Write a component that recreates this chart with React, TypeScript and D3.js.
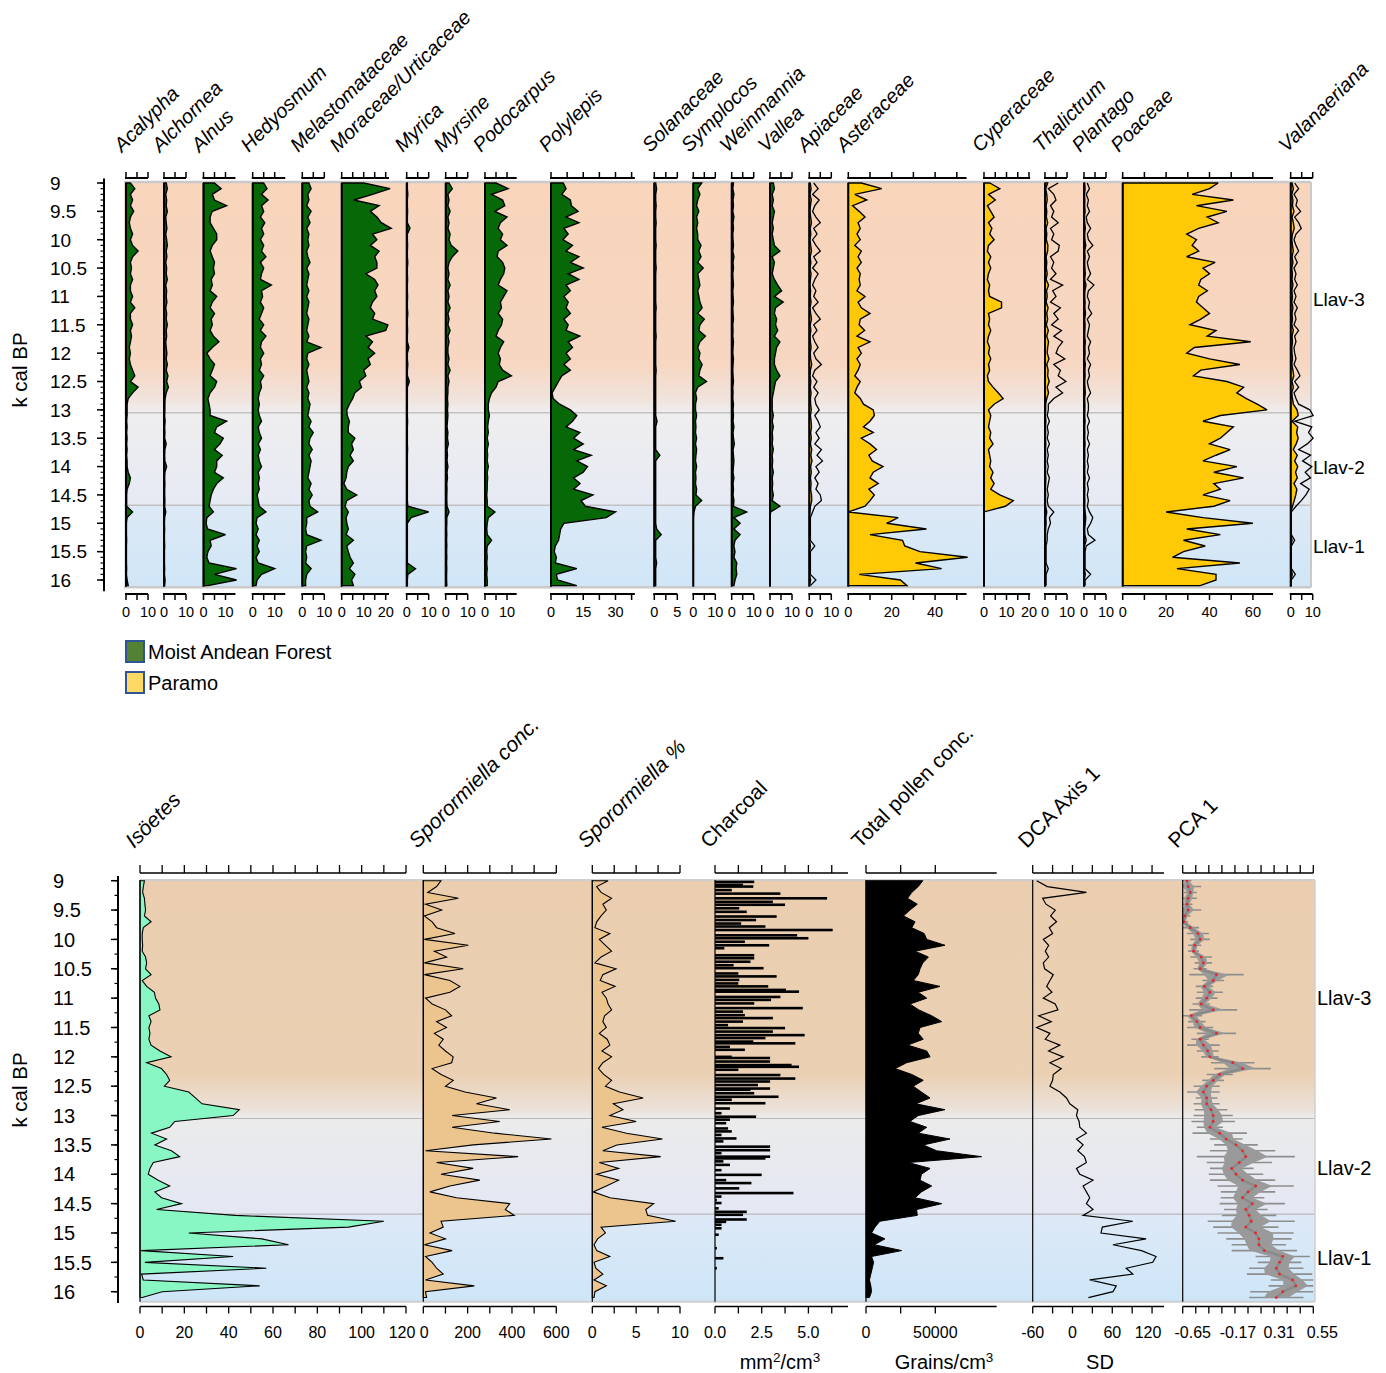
import React from "react";
import * as d3 from "d3";

// ---------- DATA ----------
const AGES = [
  9.0, 9.1, 9.2, 9.3, 9.4, 9.5, 9.6, 9.7, 9.8, 9.9,
  10.0, 10.1, 10.2, 10.3, 10.4, 10.5, 10.6, 10.7, 10.8, 10.9,
  11.0, 11.1, 11.2, 11.3, 11.4, 11.5, 11.6, 11.7, 11.8, 11.9,
  12.0, 12.1, 12.2, 12.3, 12.4, 12.5, 12.6, 12.7, 12.8, 12.9,
  13.0, 13.1, 13.2, 13.3, 13.4, 13.5, 13.6, 13.7, 13.8, 13.9,
  14.0, 14.1, 14.2, 14.3, 14.4, 14.5, 14.6, 14.7, 14.8, 14.9,
  15.0, 15.1, 15.2, 15.3, 15.4, 15.5, 15.6, 15.7, 15.8, 15.9,
  16.0, 16.1,
];

const acalypha = [2, 4, 2, 3, 2, 3.5, 2, 1.5, 2, 3, 2, 3, 5.5, 3, 2, 2.5, 2, 3, 2, 2, 3, 2, 4, 2, 2, 3, 2, 2.5, 2, 1.5, 2, 1.5, 2, 3, 4, 2, 5.5, 3, 1, 0.5, 0.5, 0.5, 0.3, 0.5, 0.3, 0.5, 0.3, 0.5, 0.3, 0.5, 0.5, 1, 2, 1.5, 0.5, 0.3, 0.3, 0.3, 3, 0.5, 0.2, 0.2, 0.2, 0.3, 0.2, 0.2, 0.2, 0.2, 0.3, 0.2, 0.5, 1];
const alchornea = [1, 1.5, 0.8, 1.2, 1, 1.5, 0.8, 1, 1.3, 0.8, 1.2, 1.5, 1, 1.3, 0.8, 1.2, 1, 1.5, 0.8, 1.2, 1, 1.3, 0.8, 1.2, 1, 1.5, 1, 1.2, 0.8, 1, 1.3, 1, 1.5, 1, 1.8, 1.2, 2, 1, 0.5, 0.4, 0.4, 0.3, 0.5, 0.3, 0.4, 0.3, 1, 0.4, 0.3, 0.4, 1.2, 0.4, 0.3, 0.4, 0.3, 0.3, 0.4, 0.3, 0.8, 0.3, 0.2, 0.3, 0.2, 0.2, 0.3, 0.2, 0.2, 0.2, 0.3, 0.2, 0.5, 0.3];
const alnus = [5, 8, 4, 5, 10.5, 4, 3, 3, 4.5, 6, 6, 4, 3, 4, 5, 4.5, 5, 3.5, 4, 3, 6, 4, 3, 5, 3.5, 4, 3, 4.5, 7, 4, 1.5, 3, 5, 4, 3, 6, 5, 3, 2, 2.5, 3, 3, 10.5, 6, 5, 9, 7.5, 5, 8.5, 6, 6, 5, 9, 6, 4.5, 3.5, 3, 2.5, 4.5, 1.5, 1.2, 1.8, 10, 3, 3.5, 2, 1.5, 2.5, 15, 5, 15, 2];
const hedyosmum = [5, 6.5, 4, 7, 4, 5, 3.5, 5.5, 4, 5, 3.5, 5, 4, 6, 3.5, 5, 4, 3.5, 8.5, 4, 4.5, 3.5, 5, 4, 3, 5, 3.5, 6, 4, 3.5, 5, 3.5, 4, 3, 5, 3.5, 4, 3, 2.5, 3, 2.5, 3, 4, 2.5, 3, 4, 2.5, 3.5, 2.5, 3, 4, 2.5, 3, 2.5, 3, 2, 2.5, 3, 6, 2, 1.5, 2.5, 1.5, 3, 2, 3, 1.5, 2.5, 10, 4, 2, 1.5];
const melastomataceae = [3, 4, 2.5, 3, 2, 4, 2.5, 3.5, 2, 3, 2.5, 3, 2, 2.5, 3.5, 2, 3, 2.5, 2, 3, 2, 3, 2.5, 2, 3, 2.5, 2, 3, 2, 8.5, 2.5, 2, 3, 2, 2.5, 3, 2, 3, 2.5, 3.5, 3, 2.5, 4, 3, 5, 3.5, 3, 4.5, 3, 4, 3.5, 3, 2.5, 4, 3, 4.5, 3, 3.5, 7, 2, 2, 1.5, 2, 8.5, 2, 1.5, 2, 1.5, 4, 2, 1.5, 1.5];
const moraceae = [10, 22, 14, 5.5, 17, 13, 16, 18, 22.5, 14, 16, 13, 17, 15, 16, 16, 11, 15, 16.5, 15, 16, 14, 13, 15, 14, 21, 20, 11, 14, 12, 15, 12, 13, 10, 11, 8, 9, 6, 5, 3.5, 2.3, 2.5, 3.5, 3, 3, 6, 4.5, 5.3, 3.8, 5.3, 3, 2.3, 2, 1, 2.3, 6.8, 2.3, 1.5, 3, 2, 2.3, 3, 2, 5.3, 2.3, 3, 3.8, 5.3, 3.5, 6, 4.5, 5.3];
const myrica = [0.3, 0.3, 0.5, 0.3, 0.3, 0.4, 0.3, 0.3, 1.5, 0.3, 0.3, 0.4, 0.3, 0.3, 0.5, 0.3, 0.3, 0.4, 0.3, 0.3, 0.4, 0.3, 0.3, 0.5, 0.3, 0.3, 0.4, 0.3, 0.3, 1, 0.3, 0.3, 0.5, 0.3, 0.3, 1.2, 0.3, 0.3, 0.3, 0.3, 0.3, 0.3, 0.4, 0.3, 0.3, 0.3, 0.3, 0.4, 0.3, 0.3, 0.3, 0.3, 0.3, 0.3, 0.3, 0.3, 0.3, 0.5, 10, 2, 0.3, 0.3, 0.3, 0.3, 0.3, 0.3, 0.3, 0.3, 4, 0.5, 0.3, 0.3];
const myrsine = [1.5, 3, 1, 1.5, 1, 2, 1, 1.5, 1, 2, 1.5, 2.5, 5.5, 3, 1.5, 1, 1.5, 1, 2, 1, 1.5, 1, 2, 1, 1.5, 1, 2, 1, 1.5, 1, 1, 1.5, 1, 2, 1, 1.5, 1, 1, 0.8, 1, 0.8, 1, 0.8, 0.6, 1, 0.8, 1.2, 0.6, 0.8, 0.6, 1, 0.6, 0.8, 0.5, 0.6, 0.5, 0.5, 0.6, 1.5, 0.5, 0.5, 0.4, 0.5, 0.4, 0.5, 0.4, 0.5, 0.4, 0.5, 0.4, 0.4, 0.5];
const podocarpus = [5, 10.5, 3, 8, 9, 4.5, 10, 7, 6, 8, 7, 10, 6, 5.5, 8, 9, 8.5, 7, 6, 10, 8.5, 7, 7.5, 6, 8, 7.5, 6, 5, 8.5, 7, 6, 7, 6.5, 8, 12, 6, 5, 3, 2, 1.5, 1.5, 2, 1.5, 1.2, 1.5, 1, 1.5, 1, 1.2, 1, 1.5, 1, 1.2, 1, 1, 0.8, 1, 1, 4.5, 1.5, 1, 0.8, 1, 3, 1, 0.8, 1, 0.8, 1, 0.8, 1, 1];
const polylepis = [5.7, 7, 5, 9, 9.5, 12.6, 7, 13, 6, 8, 5.5, 10, 7, 13, 9, 15, 8, 13, 7, 9, 6, 8, 7, 9, 6, 8, 7, 13.4, 8, 10, 7, 9, 6, 9, 5, 3.5, 2, 0.5, 1, 4, 9, 12, 10, 7, 13.4, 10.5, 15, 10.5, 18.7, 12, 17, 15, 10.5, 13.5, 10.5, 19.5, 14, 16, 30, 25.7, 6, 4.5, 4, 3.5, 2, 1.5, 2.5, 2, 12, 2.5, 3, 12];
const solanaceae = [0.3, 0.5, 0.3, 0.3, 0.4, 0.3, 0.3, 0.4, 0.3, 0.3, 0.3, 0.4, 0.3, 0.3, 0.3, 0.4, 0.3, 0.3, 0.3, 0.3, 0.3, 0.3, 0.4, 0.3, 0.3, 0.3, 0.3, 0.4, 0.3, 0.3, 0.3, 0.3, 0.3, 0.4, 0.3, 0.3, 0.3, 0.3, 0.3, 0.3, 0.3, 0.3, 0.6, 0.3, 0.3, 0.3, 0.3, 0.3, 1.2, 0.3, 0.3, 0.3, 0.3, 0.3, 0.3, 0.3, 0.3, 0.3, 0.3, 0.3, 0.3, 0.5, 1.5, 0.3, 0.3, 0.3, 0.3, 0.5, 0.3, 0.3, 0.3, 0.3];
const symplocos = [3.8, 2, 3, 2, 1.5, 2.5, 1.5, 2, 1.5, 2, 2, 3.5, 2.5, 3.5, 2, 4.5, 2, 2.5, 3, 2, 2.5, 3, 4, 2, 5, 3, 2.5, 5.5, 3, 2, 3, 2.5, 4, 3, 2.5, 6, 2, 1, 1.5, 1, 1, 1.5, 1, 1.2, 1, 1.5, 1, 1.5, 1.2, 1, 1.5, 1, 1.2, 1, 1.5, 1.2, 3.8, 1, 0.3, 0, 0, 0, 0, 0, 0, 0, 0, 0, 0, 0, 0, 0];
const weinmannia = [0.8, 0.5, 1, 0.6, 0.8, 0.5, 1, 0.6, 0.8, 0.5, 0.6, 0.8, 0.5, 1, 0.6, 0.8, 0.5, 0.6, 0.8, 0.5, 0.6, 0.8, 0.5, 0.6, 0.8, 0.5, 0.6, 0.5, 0.8, 0.6, 0.5, 0.8, 0.6, 0.5, 0.6, 0.8, 0.5, 0.6, 0.5, 0.8, 0.6, 0.8, 0.6, 1, 0.6, 0.8, 1.2, 0.6, 0.8, 1, 0.8, 0.6, 1, 0.6, 0.8, 0.6, 1, 0.8, 6.8, 1, 3.8, 1, 3.8, 1.5, 1, 1.5, 1, 2.3, 2, 2.3, 1.5, 1];
const vallea = [1.5, 2, 1, 1.5, 1, 2, 1.5, 1, 1.5, 1, 1.5, 2, 4.5, 1, 2, 1.5, 1, 2, 3.5, 5.3, 2, 6, 2.5, 2, 3, 2.5, 3.5, 2, 4.5, 3, 2.5, 2, 2, 3, 4.5, 2.5, 2, 1.5, 1, 1, 1, 1.5, 1, 1.5, 1, 1.2, 1, 1.5, 1, 1.2, 1, 1.5, 1, 1.2, 1, 1.5, 1, 4.5, 0.3, 0, 0, 0, 0, 0, 0, 0, 0, 0, 0, 0, 0, 0];
const apiaceae = [0.4, 0.8, 0.3, 0.9, 0.5, 0.3, 0.6, 1, 0.4, 0.7, 0.3, 0.6, 1, 0.4, 0.7, 0.3, 0.8, 0.5, 0.3, 0.6, 0.4, 0.8, 0.3, 0.6, 1, 0.4, 0.7, 0.3, 0.5, 0.8, 0.4, 0.6, 1.1, 0.5, 0.3, 0.7, 0.4, 0.8, 0.5, 0.6, 0.9, 0.5, 0.8, 1, 0.6, 0.9, 0.5, 1.1, 0.7, 1.2, 0.6, 0.9, 0.5, 0.8, 0.6, 1, 1.1, 0.5, 0.3, 0.1, 0.1, 0.1, 0.1, 0.1, 0.5, 0.1, 0.1, 0.1, 0.1, 0.1, 0.6, 0.1];
const asteraceae = [6, 15.4, 3, 8.5, 2, 5, 7.7, 4.5, 5.5, 4, 5.5, 3, 6, 4.5, 6, 4, 5.5, 5, 5.5, 4, 7.7, 4.5, 6, 10, 5.5, 5, 7.5, 4, 10, 4.5, 6, 4, 5.5, 4.5, 3, 5.5, 4, 3, 5.5, 7, 11.5, 12, 10, 7, 11.5, 6, 10, 13, 9.5, 11, 16, 11.5, 10, 13.8, 9.5, 12, 10, 7.7, 0, 23, 17.7, 36, 10, 25, 26, 33, 55, 31, 43, 5, 24, 27];
const cyperaceae = [2.6, 7, 2, 5, 1.5, 3, 4.5, 2, 3.5, 2.5, 4.5, 2, 1.5, 3, 2, 3, 2, 1.5, 2.5, 2, 2.5, 7.8, 7.8, 2, 2.5, 2, 3, 2, 1.5, 2.5, 2, 3, 2, 2.5, 1.5, 2, 4, 6.3, 8.5, 4.5, 2, 3, 2.5, 2, 3, 2.5, 4, 2, 2.5, 3, 2.5, 4, 3, 4.5, 3, 7, 13, 9.5, 0, 0, 0, 0, 0, 0, 0, 0, 0, 0, 0, 0, 0, 0];
const thalictrum = [1.2, 0.3, 0.8, 1, 0.5, 0.8, 0.6, 1.2, 0.5, 0.8, 0.6, 1.3, 1.2, 0.5, 0.8, 0.6, 1, 0.5, 1.6, 0.7, 1, 0.5, 1.4, 0.8, 1.2, 0.6, 1.5, 0.8, 1.6, 1.2, 1, 1.8, 0.8, 1.4, 1.2, 1.9, 1, 1.6, 0.8, 0.3, 0.3, 0.2, 0.4, 0.2, 0.3, 0.2, 0.4, 0.2, 0.3, 0.2, 0.3, 0.2, 0.4, 0.3, 0.2, 0.3, 0.2, 0.3, 0.8, 0.4, 0.5, 0.3, 0.2, 0.2, 0.1, 0.1, 0.1, 0.1, 0.3, 0.1, 0.1, 0.1];
const plantago = [0.3, 0.5, 0.2, 0.4, 0.3, 0.5, 0.2, 0.3, 0.6, 0.3, 0.4, 0.8, 0.3, 0.5, 0.3, 0.4, 0.6, 0.3, 0.9, 0.4, 0.3, 0.5, 0.4, 0.7, 0.3, 0.5, 0.4, 0.3, 0.6, 0.4, 0.5, 0.3, 0.6, 0.4, 0.5, 0.3, 0.4, 0.6, 0.3, 0.4, 0.4, 0.3, 0.5, 0.3, 0.4, 0.3, 0.5, 0.3, 0.4, 0.3, 0.4, 0.3, 0.5, 0.3, 0.4, 0.3, 0.4, 0.3, 0.5, 0.8, 0.6, 0.3, 0.4, 1, 0.2, 0.1, 0.1, 0.1, 0.1, 0.6, 0.1, 0.1];
const poaceae = [44, 40, 32, 51, 34, 48, 39, 44, 35, 29.5, 34, 32, 35, 29.5, 42.6, 37, 40, 36, 35, 39, 35, 34, 37, 40, 36, 31, 43, 39, 59, 33, 29.5, 40, 54, 36, 32.6, 48, 55.7, 52.6, 57, 62, 66.5, 45, 37, 51, 48, 45, 40, 49.5, 43, 37, 52.6, 42, 55.7, 42, 45, 37, 49.5, 42, 20, 37, 60, 29.5, 45, 28, 38, 28, 23, 54, 25, 43, 43, 35.7];
const valanaeriana = [0.6, 1.2, 0.5, 1, 0.8, 1.5, 0.6, 1.2, 1.6, 0.8, 0.5, 0.8, 1.2, 0.6, 1, 0.5, 0.8, 0.6, 1, 0.5, 0.8, 0.5, 1, 0.6, 0.8, 0.5, 1.2, 0.6, 0.8, 0.5, 0.6, 0.8, 0.5, 1, 1.4, 0.6, 1.2, 0.5, 0.8, 1.2, 2.9, 3.4, 0.6, 3.2, 2.7, 3.4, 2.5, 1.2, 3, 1.8, 3.2, 2.2, 3, 1.5, 2.8, 2.3, 1.6, 0.8, 0.1, 0.1, 0.1, 0.1, 0.1, 0.6, 0.1, 0.1, 0.1, 0.1, 0.1, 0.7, 0.1, 0.1];

const isoetes = [2, 1.5, 1.2, 2, 2.2, 2.5, 2, 5, 1.5, 1, 1, 1.2, 1, 2.5, 3, 2.5, 5, 1, 3, 6.5, 7, 8.5, 9, 4, 5, 4, 4.5, 4, 5, 9, 14, 3, 9.7, 12, 13.4, 11, 22, 25, 28, 44.8, 42, 15.7, 13.4, 5.2, 12, 6.7, 14.2, 17.9, 6, 4.5, 3.7, 8.2, 13.4, 6.7, 9.7, 18.7, 7.5, 43, 110, 94, 22, 55, 67, 0.5, 42, 2.2, 57, 0.7, 1.5, 54, 10, 1];
const sporConc = [80, 60, 20, 158, 10, 83, 5, 40, 60, 143, 5, 203, 50, 105, 5, 180, 5, 120, 165, 120, 10, 40, 100, 128, 60, 105, 50, 90, 70, 100, 135, 128, 40, 80, 135, 100, 188, 330, 240, 390, 130, 345, 130, 322, 578, 225, 10, 428, 60, 225, 80, 255, 120, 30, 150, 390, 370, 410, 80, 90, 30, 100, 5, 130, 10, 40, 60, 90, 10, 230, 10, 15];
const sporPct = [1.8, 0.5, 1, 2.2, 1.2, 1.6, 1, 0.5, 0.3, 2, 0.8, 1.5, 2.2, 1, 0.3, 2.7, 1.2, 0.9, 2.6, 1.1, 1.6, 1.8, 2.2, 1.4, 1.2, 1.6, 0.8, 1.7, 2, 1.1, 2.2, 1.2, 0.7, 1.3, 2.2, 1.5, 3.1, 5.8, 2.4, 3.5, 2, 5, 1.1, 3.9, 8, 2.8, 1.2, 7.8, 0.8, 3, 0.5, 3, 1.6, 0.1, 2, 7, 6.1, 6.3, 9.5, 1, 1.5, 0.6, 0.2, 0.5, 2, 0.2, 0.4, 1.2, 0.2, 1.6, 0.3, 0.2];
const totalPollen = [41000, 37700, 33000, 30000, 37000, 31700, 27000, 35400, 33000, 42000, 43800, 57000, 35400, 45000, 41000, 39000, 37700, 34100, 53400, 37700, 43800, 31700, 38000, 47400, 54600, 39000, 37700, 41300, 30000, 43800, 46200, 29300, 21000, 33000, 41300, 34100, 40000, 46200, 36000, 57000, 37700, 31700, 43800, 37700, 60600, 41300, 51000, 83400, 30500, 46200, 40000, 39000, 47400, 40000, 35400, 54600, 36500, 37000, 10000, 6500, 4000, 13700, 6000, 25700, 4000, 5500, 4500, 3500, 2500, 3500, 4000, 2500];
const dcaAxis1 = [-54, -38, 21, -45, -40, -26, -33, -24, -35, -30, -44, -36, -41, -36, -44, -42, -29, -34, -39, -31, -44, -26, -22, -51, -32, -54, -34, -41, -19, -36, -14, -34, -17, -29, -30, -34, -19, -9, -4, 8, 6, 10, 11, 21, 6, 16, 8, 18, 21, 6, 11, 31, 16, 21, 26, 21, 31, 16, 91, 45, 43, 111, 61, 104, 126, 121, 81, 91, 26, 66, 61, 24];
const pca1 = [-0.61, -0.6, -0.58, -0.6, -0.61, -0.6, -0.63, -0.64, -0.58, -0.51, -0.49, -0.54, -0.55, -0.48, -0.46, -0.49, -0.34, -0.37, -0.45, -0.4, -0.43, -0.48, -0.37, -0.57, -0.52, -0.49, -0.34, -0.49, -0.46, -0.42, -0.4, -0.19, -0.1, -0.31, -0.37, -0.43, -0.46, -0.43, -0.43, -0.39, -0.37, -0.37, -0.4, -0.31, -0.25, -0.16, -0.1, -0.07, -0.13, -0.2, -0.16, -0.1, 0.02, -0.05, -0.1, -0.01, -0.07, -0.04, -0.02, -0.07, 0.02, 0.05, 0.05, 0.1, 0.27, 0.24, 0.21, 0.24, 0.36, 0.39, 0.27, 0.21];
const pca1Spread = [0.04, 0.12, 0.06, 0.08, 0.05, 0.12, 0.05, 0.04, 0.08, 0.1, 0.09, 0.06, 0.05, 0.1, 0.08, 0.06, 0.25, 0.1, 0.08, 0.12, 0.1, 0.08, 0.22, 0.1, 0.08, 0.12, 0.18, 0.08, 0.15, 0.1, 0.08, 0.2, 0.26, 0.12, 0.1, 0.12, 0.15, 0.1, 0.12, 0.15, 0.18, 0.2, 0.12, 0.25, 0.15, 0.2, 0.3, 0.45, 0.3, 0.2, 0.25, 0.3, 0.35, 0.25, 0.2, 0.3, 0.2, 0.25, 0.4, 0.3, 0.35, 0.3, 0.25, 0.3, 0.25, 0.2, 0.25, 0.3, 0.2, 0.25, 0.3, 0.25];

const charcoalAges = [9.02, 9.07, 9.1, 9.16, 9.22, 9.3, 9.36, 9.41, 9.47, 9.53, 9.61, 9.67, 9.73, 9.78, 9.84, 9.93, 9.98, 10.04, 10.1, 10.15, 10.27, 10.32, 10.38, 10.44, 10.49, 10.58, 10.63, 10.69, 10.75, 10.8, 10.86, 10.89, 10.98, 11.03, 11.09, 11.17, 11.23, 11.29, 11.34, 11.4, 11.46, 11.51, 11.57, 11.63, 11.68, 11.74, 11.77, 11.83, 11.88, 12.0, 12.02, 12.08, 12.14, 12.17, 12.22, 12.31, 12.37, 12.42, 12.48, 12.54, 12.56, 12.62, 12.68, 12.73, 12.79, 12.88, 12.96, 13.02, 13.07, 13.13, 13.22, 13.27, 13.33, 13.39, 13.44, 13.53, 13.59, 13.64, 13.7, 13.73, 13.78, 13.84, 13.93, 14.01, 14.1, 14.15, 14.24, 14.32, 14.38, 14.44, 14.49, 14.58, 14.64, 14.69, 14.77, 14.81, 14.86, 14.92, 15.03, 15.26, 15.43, 15.6];
const charcoalValues = [2.1, 1.5, 2.05, 0.9, 3.5, 6.0, 3.1, 3.75, 1.3, 1.7, 3.3, 2.2, 1.4, 2.7, 6.3, 4.4, 5.0, 1.6, 2.9, 0.5, 2.1, 2.1, 1.9, 1.0, 2.6, 1.25, 3.3, 1.3, 1.25, 2.85, 3.8, 4.5, 3.5, 3.0, 2.1, 4.7, 1.5, 1.6, 3.1, 1.5, 0.7, 3.75, 3.1, 4.8, 2.7, 2.05, 4.3, 0.8, 1.6, 0.9, 2.95, 2.95, 4.1, 4.5, 1.25, 3.5, 4.3, 2.95, 2.3, 2.95, 1.9, 2.1, 3.4, 0.9, 2.7, 0.8, 0.35, 2.2, 0.8, 0.6, 0.7, 0.9, 0.35, 1.15, 0.45, 2.95, 2.95, 0.35, 2.95, 2.7, 0.45, 0.8, 0.35, 2.5, 0.6, 1.95, 1.3, 4.2, 0.35, 0.1, 0.35, 0.2, 1.7, 1.5, 1.7, 0.6, 0.35, 0.35, 0.2, 0.1, 0.45, 0.1];

const Y_TICKS = [9, 9.5, 10, 10.5, 11, 11.5, 12, 12.5, 13, 13.5, 14, 14.5, 15, 15.5, 16];
const ZONE_BOUNDS = [13.05, 14.68];
const ZONE_NAMES = ["Llav-3", "Llav-2", "Llav-1"];
const ZONE_LABEL_AGES_TOP = [11.05, 14.0, 15.4];
const ZONE_LABEL_AGES_BOTTOM = [11.0, 13.9, 15.42];
const LEGEND_ITEMS = ["Moist Andean Forest", "Paramo"];

// ---------- STYLE / LAYOUT ----------
const FONT = "'Liberation Sans', Arial, Helvetica, sans-serif";
const FOREST = "#066806";
const PARAMO = "#ffc905";

type TopCol = {
  name: string; data: number[]; x0: number; max: number; step: number;
  labelStep: number; k: number; color: string; exag?: number;
};

const K = 2.2;
const TOP_COLS: TopCol[] = [
  { name: "Acalypha", data: acalypha, x0: 126, max: 10, step: 5, labelStep: 10, k: K, color: FOREST },
  { name: "Alchornea", data: alchornea, x0: 164, max: 10, step: 5, labelStep: 10, k: K, color: FOREST },
  { name: "Alnus", data: alnus, x0: 203.5, max: 14.5, step: 5, labelStep: 10, k: K, color: FOREST },
  { name: "Hedyosmum", data: hedyosmum, x0: 252.7, max: 14.8, step: 5, labelStep: 10, k: K, color: FOREST },
  { name: "Melastomataceae", data: melastomataceae, x0: 302.3, max: 10, step: 5, labelStep: 10, k: K, color: FOREST },
  { name: "Moraceae/Urticaceae", data: moraceae, x0: 341.7, max: 21.5, step: 5, labelStep: 10, k: K, color: FOREST },
  { name: "Myrica", data: myrica, x0: 406.7, max: 10, step: 5, labelStep: 10, k: K, color: FOREST },
  { name: "Myrsine", data: myrsine, x0: 445.7, max: 10, step: 5, labelStep: 10, k: K, color: FOREST },
  { name: "Podocarpus", data: podocarpus, x0: 485, max: 14.4, step: 5, labelStep: 10, k: K, color: FOREST },
  { name: "Polylepis", data: polylepis, x0: 551, max: 39, step: 7.5, labelStep: 15, k: 2.15, color: FOREST },
  { name: "Solanaceae", data: solanaceae, x0: 654.3, max: 5, step: 2.5, labelStep: 5, k: 4.6, color: FOREST },
  { name: "Symplocos", data: symplocos, x0: 693.3, max: 10, step: 5, labelStep: 10, k: K, color: FOREST },
  { name: "Weinmannia", data: weinmannia, x0: 731.7, max: 10, step: 5, labelStep: 10, k: K, color: FOREST },
  { name: "Vallea", data: vallea, x0: 770, max: 10, step: 5, labelStep: 10, k: K, color: FOREST },
  { name: "Apiaceae", data: apiaceae, x0: 809.3, max: 10, step: 5, labelStep: 10, k: K, color: PARAMO, exag: 5 },
  { name: "Asteraceae", data: asteraceae, x0: 848.3, max: 54.5, step: 10, labelStep: 20, k: 2.17, color: PARAMO },
  { name: "Cyperaceae", data: cyperaceae, x0: 984, max: 20.5, step: 5, labelStep: 10, k: 2.25, color: PARAMO },
  { name: "Thalictrum", data: thalictrum, x0: 1045, max: 10, step: 5, labelStep: 10, k: K, color: PARAMO, exag: 5 },
  { name: "Plantago", data: plantago, x0: 1084, max: 10, step: 5, labelStep: 10, k: K, color: PARAMO, exag: 5 },
  { name: "Poaceae", data: poaceae, x0: 1122.7, max: 69.3, step: 10, labelStep: 20, k: 2.17, color: PARAMO },
  { name: "Valanaeriana", data: valanaeriana, x0: 1290.7, max: 10, step: 5, labelStep: 10, k: K, color: PARAMO, exag: 3 },
];

const TOP_BG_STOPS: [number, string][] = [
  [9, "#f8d5bb"], [12.2, "#f7d7c2"], [12.8, "#f1e3dc"], [13.05, "#efeeef"],
  [14.67, "#e6eaf4"], [14.69, "#dde9f6"], [16.13, "#d0e6f7"],
];
const BOT_BG_STOPS: [number, string][] = [
  [9, "#ebceb0"], [12.3, "#ebd0b3"], [12.9, "#ebe2da"], [13.05, "#ebebeb"],
  [14.67, "#e4e8f4"], [14.69, "#dee9f7"], [16.17, "#cde6f8"],
];

export default function App() {
  const yTop = d3.scaleLinear().domain([9, 16]).range([183, 580]);
  const yBot = d3.scaleLinear().domain([9, 16]).range([880.7, 1291.7]);

  const topPlot = { x1: 124, x2: 1311, y1: 182, y2: yTop(16.13) };
  const botPlot = { x1: 140, x2: 1315, y1: 880, y2: yBot(16.17) };

  const TOP_AX_Y = 178;
  const TOP_BAX_Y = 594;
  const BOT_AX_Y = 873;
  const BOT_BAX_Y = 1306.5;

  // bottom scales
  const xIso = d3.scaleLinear().domain([0, 120]).range([140, 406]);
  const xSC = d3.scaleLinear().domain([0, 600]).range([423.3, 556.3]);
  const xSP = d3.scaleLinear().domain([0, 10]).range([592.3, 680]);
  const xCh = d3.scaleLinear().domain([0, 7.12]).range([715, 848]);
  const xTP = d3.scaleLinear().domain([0, 94300]).range([866, 996.7]);
  const xDCA = d3.scaleLinear().domain([-60, 138]).range([1032.7, 1164]);
  const xPCA = d3.scaleLinear().domain([-0.65, 0.55]).range([1182.7, 1313.3]);

  const plain = (d: number) => String(d);
  const botAxes = [
    { name: "Isöetes", italic: true, x: xIso, ticks: d3.range(0, 121, 10), labels: [0, 20, 40, 60, 80, 100, 120], dx: [0, 0, 0, 0, 0, 0, -4], fmt: plain },
    { name: "Sporormiella conc.", italic: true, x: xSC, ticks: d3.range(0, 601, 100), labels: [0, 200, 400, 600], dx: [1, 0, 0, 0], fmt: plain },
    { name: "Sporormiella %", italic: true, x: xSP, ticks: d3.range(0, 10.01, 2.5), labels: [0, 5, 10], dx: [0, 0, 0], fmt: plain },
    { name: "Charcoal", italic: false, x: xCh, ticks: d3.range(0, 7.0, 1.25), labels: [0, 2.5, 5], dx: [0, 0, 0], fmt: (d: number) => d.toFixed(1) },
    { name: "Total pollen conc.", italic: false, x: xTP, ticks: [0, 25000, 50000], labels: [0, 50000], dx: [0, 0], fmt: plain },
    { name: "DCA Axis 1", italic: false, x: xDCA, ticks: d3.range(-60, 121, 30), labels: [-60, 0, 60, 120], dx: [0, 0, 0, -4], fmt: plain },
    { name: "PCA 1", italic: false, x: xPCA, ticks: d3.range(0, 11).map((i) => -0.65 + i * 0.12), labels: [-0.65, -0.17, 0.31, 0.55], dx: [10, 3, -8, 9], fmt: (d: number) => d.toFixed(2) },
  ];

  const vArea = (x: d3.ScaleLinear<number, number>, y: d3.ScaleLinear<number, number>, base: number) =>
    d3.area<number>().y((_, i) => y(AGES[i])).x0(base).x1((d) => x(d));

  const gradStops = (stops: [number, string][], y: d3.ScaleLinear<number, number>, y1: number, y2: number) =>
    stops.map(([a, c], i) => (
      <stop key={i} offset={Math.max(0, Math.min(1, (y(a) - y1) / (y2 - y1)))} stopColor={c} />
    ));

  const yAxis = (y: d3.ScaleLinear<number, number>, xLine: number, yA: number, yB: number, minorStep: number, labelX: number, fs: number, title: { x: number; y: number }) => {
    const minors = d3.range(Math.round((16 - 9) / minorStep) + 1).map((i) => 9 + i * minorStep);
    return (
      <g>
        <line x1={xLine} x2={xLine} y1={yA} y2={yB} stroke="#000" strokeWidth={2} />
        {minors.map((t, i) => (
          <line key={"m" + i} x1={xLine - 3.5} x2={xLine} y1={y(t)} y2={y(t)} stroke="#000" strokeWidth={1.2} />
        ))}
        {Y_TICKS.map((t) => (
          <g key={t}>
            <line x1={xLine - 7} x2={xLine} y1={y(t)} y2={y(t)} stroke="#000" strokeWidth={1.5} />
            <text x={labelX} y={y(t) + fs * 0.36} fontSize={fs}>{String(t)}</text>
          </g>
        ))}
        <text transform={`translate(${title.x},${title.y}) rotate(-90)`} textAnchor="middle" fontSize={20.5}>k cal BP</text>
      </g>
    );
  };

  const pcaLine = d3.line<number>().y((_, i) => yBot(AGES[i])).x((d) => xPCA(d));
  const pcaBand = d3.area<number>().y((_, i) => yBot(AGES[i]))
    .x0((d, i) => xPCA(d - pca1Spread[i] * 0.45)).x1((d, i) => xPCA(d + pca1Spread[i] * 0.45));
  const dcaLine = d3.line<number>().y((_, i) => yBot(AGES[i])).x((d) => xDCA(d));

  return (
    <svg width={1386} height={1373} style={{ position: "absolute", left: 0, top: 0, background: "#fff" }} fontFamily={FONT}>
      <defs>
        <linearGradient id="bgTop" gradientUnits="userSpaceOnUse" x1={0} x2={0} y1={topPlot.y1} y2={topPlot.y2}>
          {gradStops(TOP_BG_STOPS, yTop, topPlot.y1, topPlot.y2)}
        </linearGradient>
        <linearGradient id="bgBot" gradientUnits="userSpaceOnUse" x1={0} x2={0} y1={botPlot.y1} y2={botPlot.y2}>
          {gradStops(BOT_BG_STOPS, yBot, botPlot.y1, botPlot.y2)}
        </linearGradient>
        <clipPath id="pcaClip">
          <rect x={1182.7} y={botPlot.y1} width={1313.3 - 1182.7} height={botPlot.y2 - botPlot.y1} />
        </clipPath>
      </defs>

      {/* ===== TOP PANEL ===== */}
      <rect x={topPlot.x1} y={topPlot.y1} width={topPlot.x2 - topPlot.x1} height={topPlot.y2 - topPlot.y1} fill="url(#bgTop)" />
      {ZONE_BOUNDS.map((a) => (
        <line key={a} x1={topPlot.x1} x2={topPlot.x2} y1={yTop(a)} y2={yTop(a)} stroke="#c2c2c2" strokeWidth={1.5} />
      ))}
      <line x1={topPlot.x1} x2={topPlot.x2} y1={topPlot.y1} y2={topPlot.y1} stroke="#cacaca" strokeWidth={2.5} />
      <line x1={topPlot.x1} x2={topPlot.x2} y1={topPlot.y2} y2={topPlot.y2} stroke="#cacaca" strokeWidth={2.5} />
      <line x1={topPlot.x2} x2={topPlot.x2} y1={topPlot.y1} y2={topPlot.y2} stroke="#cacaca" strokeWidth={2} />

      {TOP_COLS.map((c) => {
        const x = d3.scaleLinear().domain([0, c.max]).range([c.x0, c.x0 + c.max * c.k]);
        const area = vArea(x, yTop, c.x0);
        const ex = c.exag;
        const exLine = ex ? d3.line<number>().y((_, i) => yTop(AGES[i])).x((d) => x(d * ex)) : null;
        const ticks = d3.range(0, c.max + 1e-6, c.step);
        const labels = ticks.filter((t) => Math.abs(t / c.labelStep - Math.round(t / c.labelStep)) < 1e-6);
        return (
          <g key={c.name}>
            <path d={area(c.data) || ""} fill={c.color} stroke="#000" strokeWidth={1.4} strokeLinejoin="miter" strokeMiterlimit={3} />
            {exLine && <path d={exLine(c.data) || ""} fill="none" stroke="#000" strokeWidth={1.3} />}
            <line x1={c.x0} x2={c.x0} y1={yTop(9)} y2={yTop(16.12)} stroke="#000" strokeWidth={2} />
            <line x1={c.x0 - 1} x2={x(c.max)} y1={TOP_AX_Y} y2={TOP_AX_Y} stroke="#000" strokeWidth={2} />
            <line x1={c.x0 - 1} x2={x(c.max)} y1={TOP_BAX_Y} y2={TOP_BAX_Y} stroke="#000" strokeWidth={2} />
            {ticks.map((t, i) => (
              <g key={i}>
                <line x1={x(t)} x2={x(t)} y1={TOP_AX_Y} y2={TOP_AX_Y - 6} stroke="#000" strokeWidth={1.5} />
                <line x1={x(t)} x2={x(t)} y1={TOP_BAX_Y} y2={TOP_BAX_Y + 6} stroke="#000" strokeWidth={1.5} />
              </g>
            ))}
            {labels.map((t) => (
              <text key={t} x={x(t)} y={617} fontSize={14.5} textAnchor="middle">{String(t)}</text>
            ))}
            <text transform={`translate(${c.x0 - 4},153) rotate(-45)`} fontSize={20} fontStyle="italic">{c.name}</text>
          </g>
        );
      })}

      {yAxis(yTop, 104, yTop(8.92), yTop(16.2), 0.1, 50, 19, { x: 27, y: 370 })}

      {ZONE_NAMES.map((n, i) => (
        <text key={n} x={1313} y={yTop(ZONE_LABEL_AGES_TOP[i]) + 7} fontSize={19}>{n}</text>
      ))}

      {/* legend */}
      {LEGEND_ITEMS.map((n, i) => (
        <g key={n}>
          <rect x={126} y={641 + i * 31} width={18} height={21} fill={i === 0 ? "#548235" : "#ffd966"} stroke="#2f5597" strokeWidth={2} />
          <text x={148} y={659 + i * 31} fontSize={20}>{n}</text>
        </g>
      ))}

      {/* ===== BOTTOM PANEL ===== */}
      <rect x={botPlot.x1} y={botPlot.y1} width={botPlot.x2 - botPlot.x1} height={botPlot.y2 - botPlot.y1} fill="url(#bgBot)" />
      {ZONE_BOUNDS.map((a) => (
        <line key={a} x1={botPlot.x1} x2={botPlot.x2} y1={yBot(a)} y2={yBot(a)} stroke="#b9b9b9" strokeWidth={1.2} />
      ))}
      <line x1={botPlot.x1} x2={botPlot.x2} y1={botPlot.y1} y2={botPlot.y1} stroke="#cfcfcf" strokeWidth={2} />
      <line x1={botPlot.x1} x2={botPlot.x2} y1={botPlot.y2} y2={botPlot.y2} stroke="#cfcfcf" strokeWidth={2} />
      <line x1={botPlot.x2} x2={botPlot.x2} y1={botPlot.y1} y2={botPlot.y2} stroke="#cfcfcf" strokeWidth={1.5} />

      {/* Isoetes */}
      <path d={vArea(xIso, yBot, xIso(0))(isoetes) || ""} fill="#88f7c4" stroke="#000" strokeWidth={1.1} />
      {/* Sporormiella conc */}
      <path d={vArea(xSC, yBot, xSC(0))(sporConc) || ""} fill="#ecc48e" stroke="#000" strokeWidth={1.1} />
      {/* Sporormiella % */}
      <path d={vArea(xSP, yBot, xSP(0))(sporPct) || ""} fill="#ecc48e" stroke="#000" strokeWidth={1.1} />
      {/* Charcoal bars */}
      {charcoalAges.map((a, i) => (
        <rect key={i} x={xCh(0)} y={yBot(a) - 1.3} width={xCh(charcoalValues[i]) - xCh(0)} height={2.6} fill="#000" />
      ))}
      {/* Total pollen */}
      <path d={vArea(xTP, yBot, xTP(0))(totalPollen) || ""} fill="#000" stroke="#000" strokeWidth={1} />
      {/* DCA */}
      <path d={dcaLine(dcaAxis1) || ""} fill="none" stroke="#000" strokeWidth={1.2} />
      {/* PCA */}
      <g clipPath="url(#pcaClip)">
        {pca1.map((d, i) => (
          <line key={i} x1={xPCA(d - pca1Spread[i])} x2={xPCA(d + pca1Spread[i])} y1={yBot(AGES[i])} y2={yBot(AGES[i])} stroke="#8e8e8e" strokeWidth={1.6} />
        ))}
        <path d={pcaBand(pca1) || ""} fill="#9a9a9a" />
        <path d={pcaLine(pca1) || ""} fill="none" stroke="#8a8a8a" strokeWidth={2.5} />
        {pca1.map((d, i) => (
          <circle key={i} cx={xPCA(d)} cy={yBot(AGES[i])} r={1.4} fill="#e8252a" />
        ))}
      </g>

      {/* baselines */}
      {[xIso(0), xSC(0), xSP(0), xCh(0), xTP(0), xDCA(-60), xPCA(-0.65)].map((bx, i) => (
        <line key={i} x1={bx} x2={bx} y1={botPlot.y1} y2={botPlot.y2} stroke="#000" strokeWidth={1.2} />
      ))}

      {/* bottom axes */}
      {botAxes.map((ax) => {
        const [r0, r1] = ax.x.range();
        return (
          <g key={ax.name}>
            <line x1={r0} x2={r1} y1={BOT_AX_Y} y2={BOT_AX_Y} stroke="#000" strokeWidth={1.5} />
            <line x1={r0} x2={r1} y1={BOT_BAX_Y} y2={BOT_BAX_Y} stroke="#000" strokeWidth={1.5} />
            {ax.ticks.map((t, i) => (
              <g key={i}>
                <line x1={ax.x(t)} x2={ax.x(t)} y1={BOT_AX_Y} y2={BOT_AX_Y - 8} stroke="#000" strokeWidth={1.3} />
                <line x1={ax.x(t)} x2={ax.x(t)} y1={BOT_BAX_Y} y2={BOT_BAX_Y + 7} stroke="#000" strokeWidth={1.3} />
              </g>
            ))}
            {ax.labels.map((t, i) => (
              <text key={t} x={ax.x(t) + ax.dx[i]} y={1338} fontSize={16} textAnchor="middle">{ax.fmt(t)}</text>
            ))}
            <text transform={`translate(${r0 - 6},849) rotate(-45)`} fontSize={21} fontStyle={ax.italic ? "italic" : "normal"}>{ax.name}</text>
          </g>
        );
      })}

      <text x={780} y={1369} fontSize={20} textAnchor="middle">
        mm<tspan dy={-7} fontSize={13.5}>2</tspan><tspan dy={7}>/cm</tspan><tspan dy={-7} fontSize={13.5}>3</tspan>
      </text>
      <text x={944} y={1369} fontSize={20} textAnchor="middle">
        Grains/cm<tspan dy={-7} fontSize={13.5}>3</tspan>
      </text>
      <text x={1100} y={1369} fontSize={20} textAnchor="middle">SD</text>

      {yAxis(yBot, 118, 876, 1303, 0.25, 53, 20, { x: 27, y: 1090 })}

      {ZONE_NAMES.map((n, i) => (
        <text key={n} x={1317} y={yBot(ZONE_LABEL_AGES_BOTTOM[i]) + 7} fontSize={20}>{n}</text>
      ))}
    </svg>
  );
}
